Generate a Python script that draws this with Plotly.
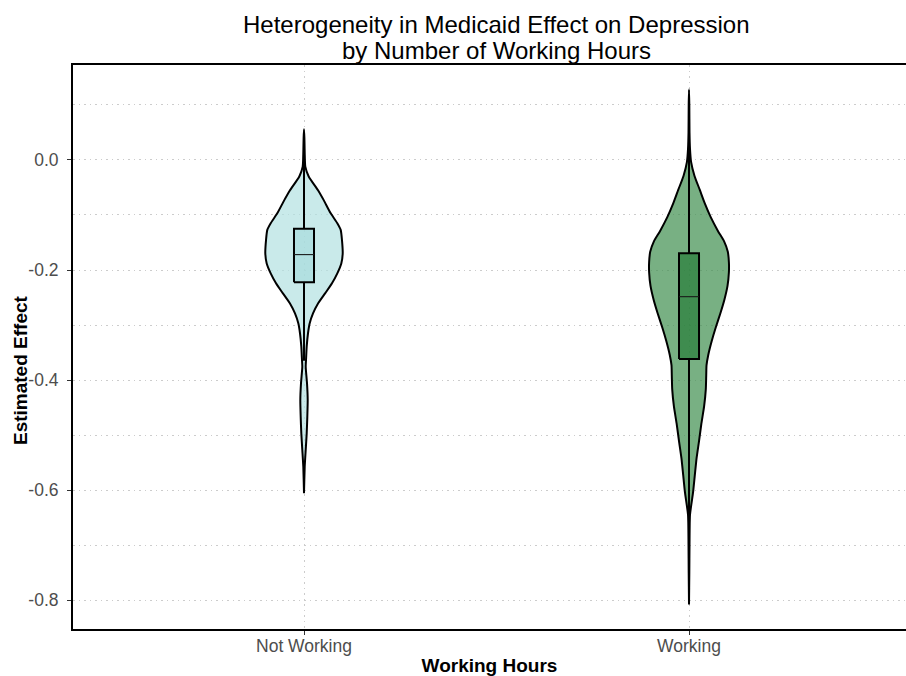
import plotly.graph_objects as go

# Groups on the horizontal axis
categories = ["Not Working", "Working"]
positions = [1, 2]

# Violin outlines: estimated effect (y) and half-width of the density (x-axis units)
nw_effect = [0.056, 0.040, 0.020, 0.000, -0.012, -0.030, -0.055, -0.073, -0.097,
             -0.115, -0.127, -0.146, -0.170, -0.188, -0.206, -0.224, -0.242,
             -0.261, -0.279, -0.297, -0.315, -0.339, -0.364, -0.376, -0.406,
             -0.436, -0.467, -0.497, -0.527, -0.558, -0.606]
nw_halfwidth = [0.0, 0.0010, 0.0016, 0.0023, 0.0034, 0.0122, 0.0364, 0.0512,
                0.0694, 0.0865, 0.0953, 0.0987, 0.1005, 0.0969, 0.0865, 0.0727,
                0.0553, 0.0364, 0.0234, 0.0148, 0.0104, 0.0070, 0.0052, 0.0044,
                0.0078, 0.0096, 0.0086, 0.0070, 0.0044, 0.0018, 0.0]

w_effect = [0.128, 0.100, 0.050, 0.020, -0.004, -0.029, -0.054, -0.079, -0.104,
            -0.129, -0.148, -0.167, -0.186, -0.204, -0.229, -0.254, -0.279,
            -0.304, -0.329, -0.354, -0.373, -0.392, -0.417, -0.448, -0.479,
            -0.511, -0.542, -0.573, -0.604, -0.645, -0.700, -0.750, -0.808]
w_halfwidth = [0.0, 0.0008, 0.0013, 0.0026, 0.0055, 0.0143, 0.0278, 0.0410,
               0.0564, 0.0751, 0.0912, 0.1008, 0.1036, 0.1036, 0.1000, 0.0919,
               0.0813, 0.0696, 0.0590, 0.0501, 0.0455, 0.0447, 0.0436, 0.0392,
               0.0322, 0.0260, 0.0197, 0.0151, 0.0106, 0.0026, 0.0013, 0.0008, 0.0]

# Box plot summaries per group
box_q1 = [-0.2224, -0.3618]
box_median = [-0.1720, -0.2485]
box_q3 = [-0.1248, -0.1697]
box_lower = [-0.365, -0.645]
box_upper = [0.022, 0.118]

# Axis ticks
y_major = [0.0, -0.2, -0.4, -0.6, -0.8]
y_major_text = ["0.0", "-0.2", "-0.4", "-0.6", "-0.8"]
y_minor = [0.1, -0.1, -0.3, -0.5, -0.7]

violin_fill = ["rgba(178,225,225,0.7)", "rgba(62,142,78,0.7)"]
box_fill = ["rgba(164,217,219,0.6)", "rgba(39,126,57,0.7)"]
BOX_HALF = 0.026

FONT = "Liberation Sans, Arial, sans-serif"
GRID = "#cccccc"
GRID_DASH = "1.5px,4px"

fig = go.Figure()

violins = [(nw_effect, nw_halfwidth), (w_effect, w_halfwidth)]
for i, (ys, hws) in enumerate(violins):
    pos = positions[i]
    xs = [pos + h for h in hws] + [pos - h for h in reversed(hws)]
    yy = list(ys) + list(reversed(ys))
    fig.add_trace(go.Scatter(
        x=xs, y=yy, mode="lines", fill="toself",
        fillcolor=violin_fill[i],
        line=dict(color="black", width=2, shape="spline", smoothing=0.6),
        hoverinfo="skip", showlegend=False,
    ))

for i, pos in enumerate(positions):
    # whiskers
    fig.add_trace(go.Scatter(
        x=[pos, pos, None, pos, pos],
        y=[box_q3[i], box_upper[i], None, box_q1[i], box_lower[i]],
        mode="lines", line=dict(color="black", width=2),
        hoverinfo="skip", showlegend=False,
    ))
    # box body
    x0, x1 = pos - BOX_HALF, pos + BOX_HALF
    fig.add_trace(go.Scatter(
        x=[x0, x1, x1, x0, x0],
        y=[box_q1[i], box_q1[i], box_q3[i], box_q3[i], box_q1[i]],
        mode="lines", fill="toself", fillcolor=box_fill[i],
        line=dict(color="black", width=2),
        hoverinfo="skip", showlegend=False,
    ))
    # median
    fig.add_trace(go.Scatter(
        x=[x0, x1], y=[box_median[i], box_median[i]],
        mode="lines", line=dict(color="#1a1a1a", width=1.1),
        hoverinfo="skip", showlegend=False,
    ))

# Two-line title
fig.add_annotation(text="Heterogeneity in Medicaid Effect on Depression",
                   x=0.5084, y=1.0725, xref="paper", yref="paper",
                   xanchor="center", yanchor="middle", showarrow=False,
                   font=dict(family=FONT, size=24, color="black"))
fig.add_annotation(text="by Number of Working Hours",
                   x=0.5084, y=1.0265, xref="paper", yref="paper",
                   xanchor="center", yanchor="middle", showarrow=False,
                   font=dict(family=FONT, size=24, color="black"))

# Vertical axis title
fig.add_annotation(text="<b>Estimated Effect</b>", textangle=-90,
                   x=-0.0636, y=0.4592, xref="paper", yref="paper",
                   xanchor="center", yanchor="middle", showarrow=False,
                   font=dict(family=FONT, size=19, color="black"))

fig.update_layout(
    width=906, height=676,
    margin=dict(l=73, r=0, t=65, b=47),
    paper_bgcolor="white", plot_bgcolor="white",
    font=dict(family=FONT),
    showlegend=False,
    xaxis=dict(
        range=[0.4, 2.5636], tickvals=positions, ticktext=categories,
        showline=True, mirror=True, linecolor="black", linewidth=2,
        ticks="outside", ticklen=4, tickwidth=1, tickcolor="#333333",
        tickfont=dict(family=FONT, size=17.5, color="#4d4d4d"),
        ticklabelstandoff=-4,
        showgrid=True, gridcolor=GRID, gridwidth=1, griddash=GRID_DASH,
        zeroline=False,
        title=dict(text="<b>Working Hours</b>", standoff=8,
                   font=dict(family=FONT, size=19, color="black")),
    ),
    yaxis=dict(
        range=[-0.8527, 0.1727], tickvals=y_major, ticktext=y_major_text,
        showline=True, linecolor="black", linewidth=2,
        ticks="outside", ticklen=4, tickwidth=1, tickcolor="#333333",
        tickfont=dict(family=FONT, size=17.5, color="#4d4d4d"),
        ticklabelstandoff=5,
        showgrid=True, gridcolor=GRID, gridwidth=1, griddash=GRID_DASH,
        zeroline=False,
        minor=dict(tickvals=y_minor, showgrid=True, gridcolor=GRID,
                   gridwidth=1, griddash=GRID_DASH, ticks=""),
    ),
)

fig.write_html("out.html")
